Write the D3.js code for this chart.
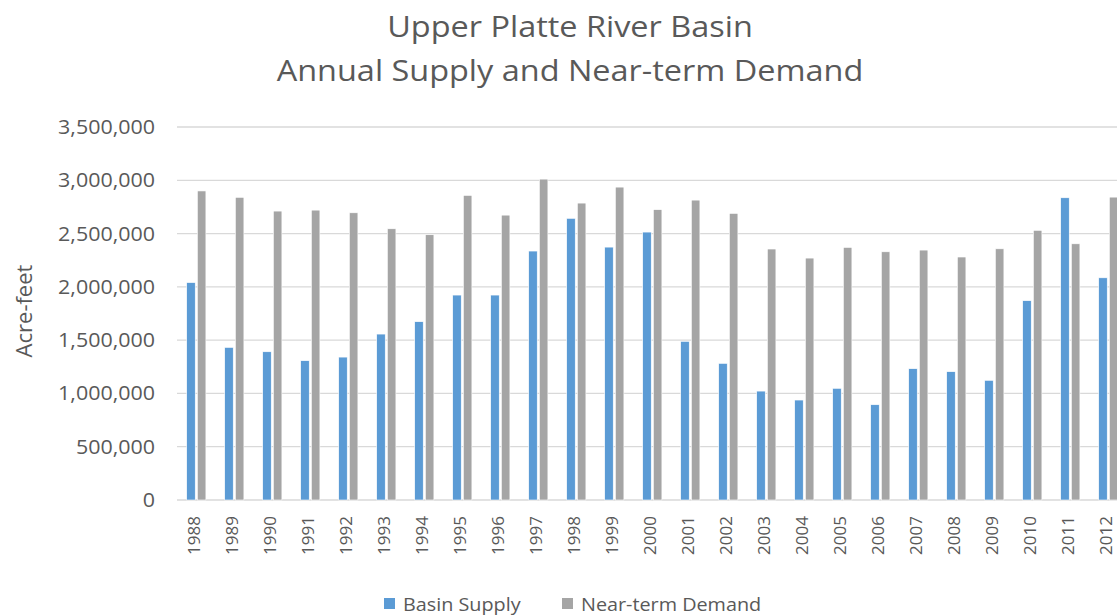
<!DOCTYPE html>
<html>
<head>
<meta charset="utf-8">
<script src="https://cdn.jsdelivr.net/npm/d3@7"></script>
<style>
  body { margin: 0; background: #fff; }
  text { font-family: "Open Sans", sans-serif; fill: #595959; }
</style>
</head>
<body>
<script>
var width = 1117,
    height = 616,
    stretch = 1.1; // the original font is a bit wider than Open Sans

// data
var years = ["1988","1989","1990","1991","1992","1993","1994","1995","1996","1997","1998","1999",
             "2000","2001","2002","2003","2004","2005","2006","2007","2008","2009","2010","2011","2012"];
var basinSupply = [2040000,1432000,1391000,1307000,1341000,1557000,1673000,1923000,1923000,2336000,2643000,2373000,
                   2514000,1489000,1282000,1022000,938000,1048000,894000,1232000,1204000,1123000,1870000,2836000,2085000];
var nearTermDemand = [2900000,2840000,2711000,2720000,2695000,2545000,2489000,2858000,2673000,3011000,2786000,2936000,
                      2724000,2814000,2689000,2355000,2270000,2370000,2329000,2345000,2280000,2357000,2530000,2404000,2842000];
var seriesNames = ["Basin Supply", "Near-term Demand"];
var seriesColors = ["#5b9bd5", "#a5a5a5"];
var yTicks = [0,500000,1000000,1500000,2000000,2500000,3000000,3500000];

var margin = {left: 177, top: 127, bottom: 116};

var svg = d3.select("body").append("svg")
    .attr("width", width)
    .attr("height", height);

var x = d3.scaleBand().domain(years).range([margin.left, margin.left + 38 * years.length]);
var xs = d3.scaleBand().domain(seriesNames).range([9.7, 28.9]).paddingInner(0.2);
var y = d3.scaleLinear().domain([0, 3500000]).range([height - margin.bottom, margin.top]);

//helper to place horizontal text with a small horizontal stretch
function place(px, py){ return "translate(" + px + "," + py + ") scale(" + stretch + ",1)"; }

//gridlines
svg.append("g").selectAll("line").data(yTicks).enter().append("line")
    .attr("x1", margin.left).attr("x2", width + 20)
    .attr("y1", function(d){return y(d);}).attr("y2", function(d){return y(d);})
    .attr("stroke", "#d9d9d9").attr("stroke-width", 1.3);

//y axis labels
var fmt = d3.format(",");
svg.append("g").selectAll("text").data(yTicks).enter().append("text")
    .attr("transform", function(d){return place(155, y(d) + 7);})
    .attr("text-anchor", "end")
    .style("font-size", "19.5px")
    .text(function(d){return fmt(d);});

svg.append("text")
    .attr("transform", "translate(32,311) rotate(-90)")
    .attr("text-anchor", "middle")
    .style("font-size", "22px")
    .text("Acre-feet");

//bars
var rows = years.map(function(yr, i){ return {year: yr, values: [basinSupply[i], nearTermDemand[i]]}; });
var group = svg.append("g").selectAll("g").data(rows).enter().append("g")
    .attr("transform", function(d){return "translate(" + x(d.year) + ",0)";});
group.selectAll("rect").data(function(d){
        return d.values.map(function(v, j){return {name: seriesNames[j], value: v, color: seriesColors[j]};});
    })
    .enter().append("rect")
    .attr("x", function(d){return xs(d.name);})
    .attr("width", xs.bandwidth())
    .attr("y", function(d){return y(d.value);})
    .attr("height", function(d){return y(0) - y(d.value);})
    .attr("fill", function(d){return d.color;})
    .attr("stroke", "#fff").attr("stroke-width", 0.6);

//x axis labels (rotated)
svg.append("g").selectAll("text").data(years).enter().append("text")
    .attr("transform", function(d){return "translate(" + (x(d) + x.bandwidth()/2 + 4) + ",516) rotate(-90)";})
    .attr("text-anchor", "end")
    .style("font-size", "17px")
    .text(function(d){return d;});

//title
svg.append("text").attr("transform", place(570, 37)).attr("text-anchor", "middle")
    .style("font-size", "29.5px").text("Upper Platte River Basin");
svg.append("text").attr("transform", place(570, 81)).attr("text-anchor", "middle")
    .style("font-size", "29.5px").text("Annual Supply and Near-term Demand");

//legend
var legendX = [384, 562];
var legend = svg.append("g").selectAll("g").data(seriesNames).enter().append("g")
    .attr("transform", function(d, i){return "translate(" + legendX[i] + ",598)";});
legend.append("rect").attr("width", 11).attr("height", 11)
    .attr("fill", function(d, i){return seriesColors[i];});
legend.append("text").attr("transform", place(19, 13))
    .style("font-size", "18px")
    .text(function(d){return d;});
</script>
</body>
</html>
